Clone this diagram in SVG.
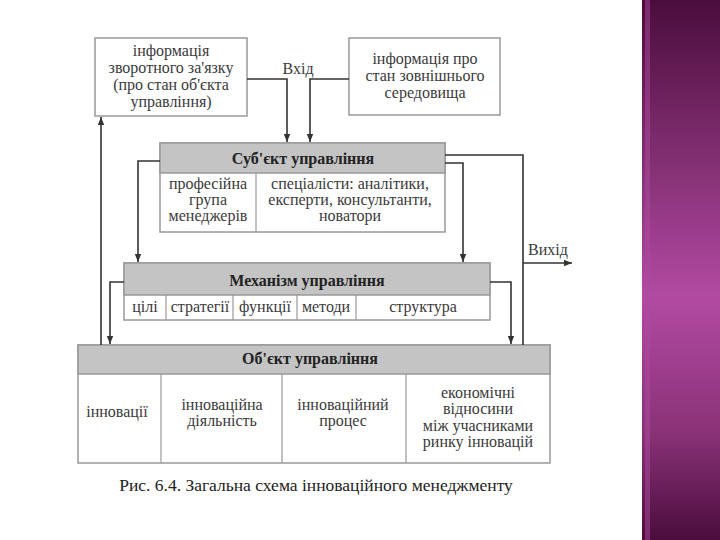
<svg xmlns="http://www.w3.org/2000/svg" width="720" height="540" viewBox="0 0 720 540">
<defs>
<linearGradient id="band" x1="0" y1="0" x2="0" y2="1">
<stop offset="0" stop-color="#4a0d3c"/>
<stop offset="0.25" stop-color="#7a2a6a"/>
<stop offset="0.55" stop-color="#b24aa2"/>
<stop offset="0.8" stop-color="#8a3278"/>
<stop offset="1" stop-color="#4a0d3c"/>
</linearGradient>
<marker id="ah" viewBox="0 0 10 10" refX="10" refY="5" markerWidth="8" markerHeight="8" markerUnits="userSpaceOnUse" orient="auto">
<path d="M0,1 L10,5 L0,9 Z" fill="#333"/>
</marker>
<style>
.box{fill:#fff;stroke:#999;stroke-width:1.5}
.hdr{fill:#c4c4c4;stroke:#999;stroke-width:1.5}
.div{stroke:#999;stroke-width:1.2}
.t{font-family:"Liberation Serif","DejaVu Serif",serif;font-size:16px;fill:#3a3a3a;text-anchor:middle}
.b{font-weight:bold;fill:#222}
.ln{fill:none;stroke:#333;stroke-width:1.6}
</style>
</defs>
<rect x="0" y="0" width="720" height="540" fill="#fff"/>
<rect x="642" y="0" width="78" height="540" fill="url(#band)"/>
<rect x="645" y="0" width="5" height="540" fill="#b04aa0" opacity="0.5"/>

<g id="feedback">
<rect class="box" x="95" y="38" width="152" height="78"/>
<text class="t" x="171" y="56">інформація</text>
<text class="t" x="171" y="73">зворотного за'язку</text>
<text class="t" x="171" y="90">(про стан об'єкта</text>
<text class="t" x="171" y="107">управління)</text>
</g>

<g id="environment">
<rect class="box" x="349" y="38" width="151" height="77"/>
<text class="t" x="425" y="64">інформація про</text>
<text class="t" x="425" y="81">стан зовнішнього</text>
<text class="t" x="425" y="98">середовища</text>
</g>

<g id="subject">
<rect class="box" x="160" y="143" width="285" height="89"/>
<rect class="hdr" x="160" y="143" width="285" height="30"/>
<line class="div" x1="256" y1="173" x2="256" y2="232"/>
<text class="t b" x="303" y="164">Суб'єкт управління</text>
<text class="t" x="208" y="189">професійна</text>
<text class="t" x="208" y="205">група</text>
<text class="t" x="208" y="221">менеджерів</text>
<text class="t" x="350" y="189">спеціалісти: аналітики,</text>
<text class="t" x="350" y="205">експерти, консультанти,</text>
<text class="t" x="350" y="221">новатори</text>
</g>

<g id="mechanism">
<rect class="box" x="124" y="263" width="366" height="57"/>
<rect class="hdr" x="124" y="263" width="366" height="32"/>
<line class="div" x1="166" y1="295" x2="166" y2="320"/>
<line class="div" x1="233" y1="295" x2="233" y2="320"/>
<line class="div" x1="297" y1="295" x2="297" y2="320"/>
<line class="div" x1="356" y1="295" x2="356" y2="320"/>
<text class="t b" x="307" y="286">Механізм управління</text>
<text class="t" x="145" y="312">цілі</text>
<text class="t" x="200" y="312">стратегії</text>
<text class="t" x="265" y="312">функції</text>
<text class="t" x="326" y="312">методи</text>
<text class="t" x="423" y="312">структура</text>
</g>

<g id="object">
<rect class="box" x="78" y="345" width="472" height="118"/>
<rect class="hdr" x="78" y="345" width="472" height="29"/>
<line class="div" x1="161" y1="374" x2="161" y2="463"/>
<line class="div" x1="282" y1="374" x2="282" y2="463"/>
<line class="div" x1="406" y1="374" x2="406" y2="463"/>
<text class="t b" x="310" y="364">Об'єкт управління</text>
<text class="t" x="117" y="417">інновації</text>
<text class="t" x="222" y="410">інноваційна</text>
<text class="t" x="222" y="426">діяльність</text>
<text class="t" x="343" y="410">інноваційний</text>
<text class="t" x="343" y="426">процес</text>
<text class="t" x="478" y="398">економічні</text>
<text class="t" x="478" y="414">відносини</text>
<text class="t" x="478" y="431">між учасниками</text>
<text class="t" x="478" y="447">ринку інновацій</text>
</g>

<g id="connectors">
<polyline class="ln" points="247,79 287,79 287,142" marker-end="url(#ah)"/>
<polyline class="ln" points="349,79 310,79 310,142" marker-end="url(#ah)"/>
<text class="t" x="298" y="74">Вхід</text>
<polyline class="ln" points="160,161 138,161 138,262" marker-end="url(#ah)"/>
<polyline class="ln" points="445,163 463,163 463,262" marker-end="url(#ah)"/>
<polyline class="ln" points="445,155 523,155 523,345"/>
<line class="ln" x1="523" y1="263" x2="572" y2="263" marker-end="url(#ah)"/>
<text class="t" x="548" y="255">Вихід</text>
<polyline class="ln" points="124,282 110,282 110,344" marker-end="url(#ah)"/>
<polyline class="ln" points="490,282 511,282 511,344" marker-end="url(#ah)"/>
<line class="ln" x1="101" y1="345" x2="101" y2="117" marker-end="url(#ah)"/>
</g>

<text x="316" y="491" style="font-family:'Liberation Serif','DejaVu Serif',serif;font-size:17.5px;fill:#222;text-anchor:middle">Рис. 6.4. Загальна схема інноваційного менеджменту</text>
</svg>
